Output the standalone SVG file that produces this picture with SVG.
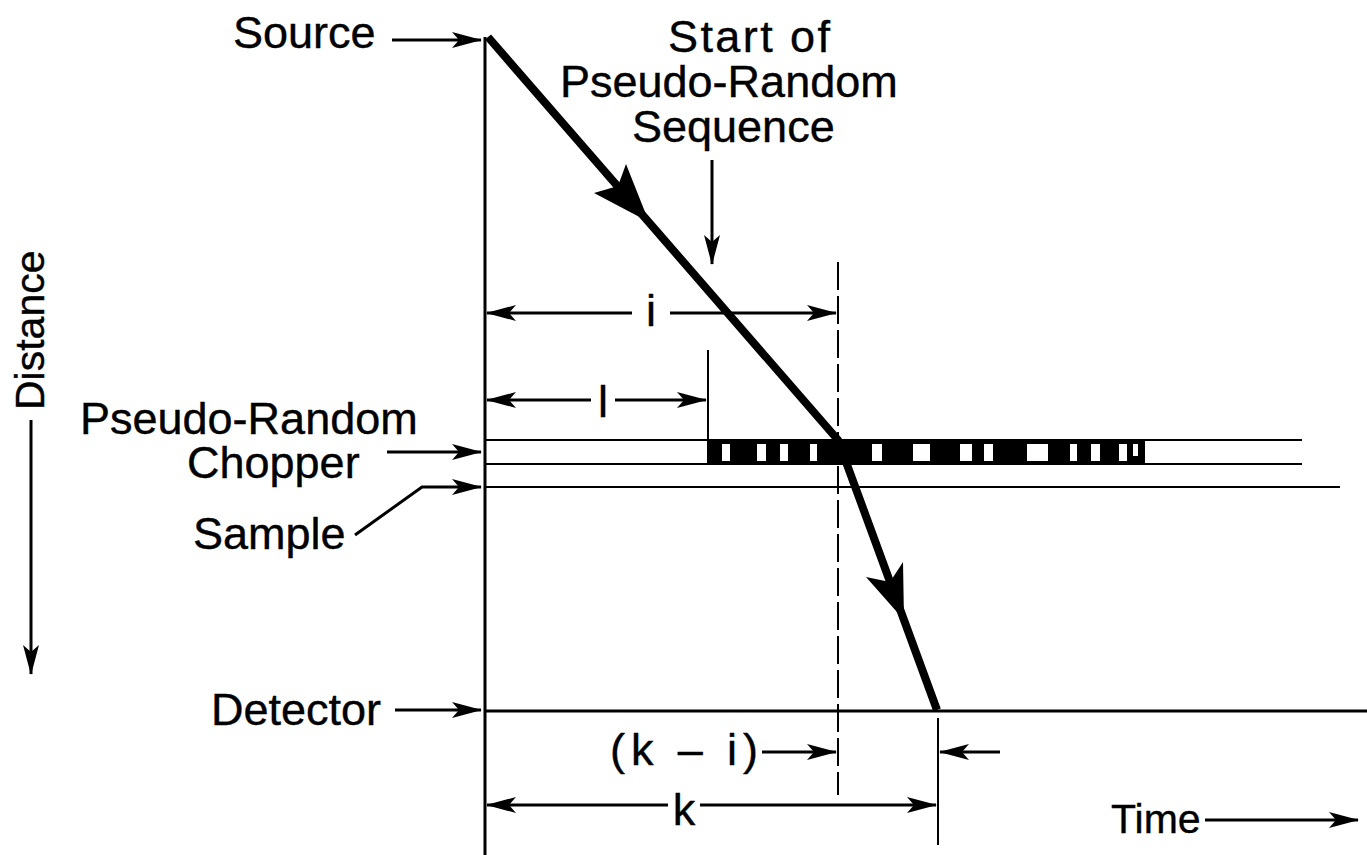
<svg xmlns="http://www.w3.org/2000/svg" width="1367" height="855" viewBox="0 0 1367 855">
<defs>
<marker id="ah" markerUnits="userSpaceOnUse" markerWidth="30" markerHeight="16" viewBox="0 0 30 16" refX="29" refY="8" orient="auto-start-reverse">
<path d="M0,0 L30,8 L0,16 L7,8 z" fill="#000"/>
</marker>
</defs>
<style>
.t{font-family:"Liberation Sans",Arial,Helvetica,sans-serif;font-size:45px;fill:#000;stroke:#000;stroke-width:0.4}
.c{text-anchor:middle}
.ln{stroke:#000;stroke-width:3;fill:none}
.th{stroke:#000;stroke-width:2;fill:none}
.ar{stroke:#000;stroke-width:3;fill:none;marker-end:url(#ah)}
.al{stroke:#000;stroke-width:3;fill:none;marker-start:url(#ah)}
</style>
<rect width="1367" height="855" fill="#fff"/>

<g id="axes">
<line class="ln" x1="485" y1="37" x2="485" y2="855"/>
<line class="th" x1="708" y1="350" x2="708" y2="440"/>
<line class="th" x1="838" y1="262" x2="838" y2="795" stroke-dasharray="28 6"/>
<line class="th" x1="938" y1="718" x2="938" y2="845"/>
<line class="ln" x1="485" y1="711" x2="1367" y2="711" stroke-width="3.5"/>
</g>

<g id="chopper">
<line class="th" x1="485" y1="440" x2="1302" y2="440" stroke-width="2.5"/>
<line class="th" x1="485" y1="464" x2="1302" y2="464" stroke-width="2.5"/>
<rect x="707" y="440" width="438" height="25" fill="#000"/>
<g fill="#fff">
<rect x="722" y="444" width="8" height="17"/>
<rect x="757" y="444" width="9" height="17"/>
<rect x="780" y="444" width="8" height="17"/>
<rect x="810" y="444" width="7" height="17"/>
<rect x="872" y="444" width="10" height="17"/>
<rect x="913" y="444" width="17" height="17"/>
<rect x="960" y="444" width="12" height="17"/>
<rect x="984" y="444" width="9" height="17"/>
<rect x="1027" y="444" width="21" height="17"/>
<rect x="1070" y="444" width="7" height="17"/>
<rect x="1091" y="444" width="9" height="17"/>
<rect x="1119" y="444" width="8" height="17"/>
<rect x="1133" y="444" width="5" height="12"/>
</g>
</g>

<g id="sample-line">
<line class="th" x1="485" y1="487" x2="1340" y2="487" stroke-width="2.5"/>
</g>

<g id="trajectory">
<polyline points="488,37 838,440 937,710" fill="none" stroke="#000" stroke-width="8" stroke-linejoin="miter"/>
<polygon points="649,222 626,164 618,186 594,193" fill="#000"/>
<polygon points="904,620 903,562 890,582 866,577" fill="#000"/>
</g>

<g id="source"><text class="t" x="233" y="48">Source</text></g>
<g id="start-label">
<text class="t" x="668" y="52" textLength="162" lengthAdjust="spacing">Start of</text>
<text class="t" x="560" y="97">Pseudo-Random</text>
<text class="t" x="632" y="142">Sequence</text>
</g>
<g id="chopper-label">
<text class="t" x="80" y="434">Pseudo-Random</text>
<text class="t" x="187" y="478">Chopper</text>
</g>
<g id="sample-label"><text class="t" x="193" y="549">Sample</text></g>
<g id="detector-label"><text class="t" x="211" y="725">Detector</text></g>
<g id="distance-label"><text class="t" style="font-size:41px" transform="translate(44,410) rotate(-90)">Distance</text></g>
<g id="time-label"><text class="t" style="font-size:41px" x="1111" y="833">Time</text></g>
<g id="dim-labels">
<text class="t c" x="651" y="326">i</text>
<text class="t c" x="603" y="417">l</text>
<text class="t" x="610" y="765" textLength="148" lengthAdjust="spacing">(k – i)</text>
<text class="t c" x="684" y="825">k</text>
</g>

<g id="connectors">
<line class="ar" x1="392" y1="40" x2="481" y2="40"/>
<line class="ar" x1="712" y1="160" x2="712" y2="264" stroke-width="2.5"/>
<line class="ar" x1="387" y1="452" x2="481" y2="452"/>
<polyline class="ar" points="355,535 422,487 481,487"/>
<line class="ar" x1="395" y1="710" x2="481" y2="710"/>
<line class="ar" x1="31" y1="420" x2="31" y2="674" stroke-width="2.5"/>
<line class="ar" x1="1205" y1="820" x2="1358" y2="820"/>
<line class="al" x1="487" y1="313" x2="632" y2="313"/>
<line class="ar" x1="670" y1="313" x2="836" y2="313"/>
<line class="al" x1="487" y1="400" x2="591" y2="400"/>
<line class="ar" x1="615" y1="400" x2="706" y2="400"/>
<line class="ar" x1="762" y1="752" x2="836" y2="752"/>
<line class="ar" x1="1000" y1="752" x2="940" y2="752"/>
<line class="al" x1="487" y1="805" x2="668" y2="805"/>
<line class="ar" x1="700" y1="805" x2="936" y2="805"/>
</g>
</svg>
